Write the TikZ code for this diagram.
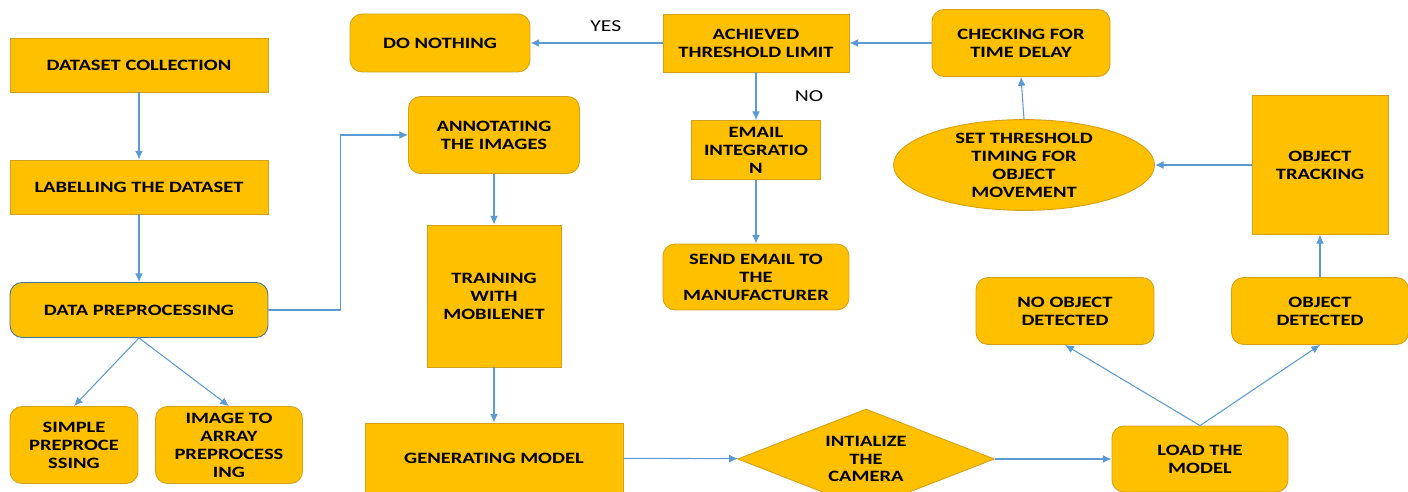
\documentclass[tikz,border=0pt]{standalone}
\usepackage{fontspec}
\setmainfont{Carlito}[FakeStretch=1.3]
\usetikzlibrary{shapes.geometric, arrows.meta}

\definecolor{gold}{HTML}{FFC000}
\definecolor{goldline}{HTML}{D4A017}
\definecolor{flowblue}{HTML}{5B9BD5}
\definecolor{prepline}{HTML}{41719C}

\begin{document}
\begin{tikzpicture}[x=0.02cm, y=-0.02cm, >={Latex[length=5pt,width=4.5pt]},
    block/.style={draw=goldline, fill=gold, line width=0.5pt, inner sep=1pt,
        align=center, font=\fontsize{9}{10.2}\selectfont\bfseries},
    rblock/.style={block, rounded corners=0.24cm},
    flow/.style={->, draw=flowblue, line width=0.6pt},
    answer/.style={font=\fontsize{9.5}{11}\selectfont}]
    \clip (0,0) rectangle (1408,492);

    % dataset side
    \node[block, minimum width=5.16cm, minimum height=1.08cm] (collect) at (139,65) {DATASET COLLECTION};
    \node[block, minimum width=5.16cm, minimum height=1.08cm] (label) at (139,187) {LABELLING THE DATASET};
    \node[rblock, draw=prepline, minimum width=5.16cm, minimum height=1.1cm] (prep) at (139,310) {DATA PREPROCESSING};
    \node[rblock, minimum width=2.56cm, minimum height=1.54cm] (simple) at (74,445) {SIMPLE\\PREPROCE\\SSING};
    \node[rblock, minimum width=2.94cm, minimum height=1.54cm] (toarray) at (229,445) {IMAGE TO\\ARRAY\\PREPROCESS\\ING};

    % training
    \node[rblock, minimum width=3.42cm, minimum height=1.54cm] (annot) at (494,135) {ANNOTATING\\THE IMAGES};
    \node[block, minimum width=2.68cm, minimum height=2.84cm] (train) at (494,296) {TRAINING\\WITH\\MOBILENET};
    \node[block, minimum width=5.16cm, minimum height=1.4cm] (model) at (494,458) {GENERATING MODEL};
    \node[block, diamond, aspect=2.57, minimum width=5.14cm, minimum height=2cm, inner sep=0pt] (camera) at (866,459) {INTIALIZE\\THE\\CAMERA};
    \node[rblock, minimum width=3.52cm, minimum height=1.32cm] (load) at (1200,459) {LOAD THE\\MODEL};

    % detection
    \node[rblock, minimum width=3.56cm, minimum height=1.34cm] (noobj) at (1065,311) {NO OBJECT\\DETECTED};
    \node[rblock, minimum width=3.54cm, minimum height=1.34cm] (obj) at (1320,311) {OBJECT\\DETECTED};
    \node[block, minimum width=2.72cm, minimum height=2.78cm] (track) at (1320,165) {OBJECT\\TRACKING};
    \node[block, ellipse, minimum width=5.22cm, minimum height=1.8cm, inner sep=0pt] (timing) at (1024,165) {SET THRESHOLD\\TIMING FOR\\OBJECT\\MOVEMENT};
    \node[rblock, minimum width=3.56cm, minimum height=1.34cm] (delay) at (1021,43) {CHECKING FOR\\TIME DELAY};

    % threshold decision
    \node[block, minimum width=3.72cm, minimum height=1.16cm] (limit) at (756,43) {ACHIEVED\\THRESHOLD LIMIT};
    \node[rblock, minimum width=3.6cm, minimum height=1.16cm] (nothing) at (440,43) {DO NOTHING};
    \node[block, minimum width=2.58cm, minimum height=1.18cm] (email) at (756,150) {EMAIL\\INTEGRATIO\\N};
    \node[rblock, minimum width=3.72cm, minimum height=1.32cm] (send) at (756,277) {SEND EMAIL TO\\THE\\MANUFACTURER};

    \draw[flow] (collect) -- (label);
    \draw[flow] (label) -- (prep);
    \draw[flow] (prep.south) -- (simple.north);
    \draw[flow] (prep.south) -- (toarray.north);
    \draw[flow] (prep.east) -- ++(72,0) |- (annot.west);
    \draw[flow] (annot) -- (train);
    \draw[flow] (train) -- (model);
    \draw[flow] (model) -- (camera);
    \draw[flow] (camera) -- (load);
    \draw[flow] (load.north) -- (noobj.south);
    \draw[flow] (load.north) -- (obj.south);
    \draw[flow] (obj) -- (track);
    \draw[flow] (track) -- (timing);
    \draw[flow] (timing.north) -- (delay.south);
    \draw[flow] (delay) -- (limit);
    \draw[flow] (limit) -- node[answer, pos=0.43, above=3pt] {YES} (nothing);
    \draw[flow] (limit) -- node[answer, right=0.65cm] {NO} (email); % no: mail goes out
    \draw[flow] (email) -- (send);
\end{tikzpicture}
\end{document}
